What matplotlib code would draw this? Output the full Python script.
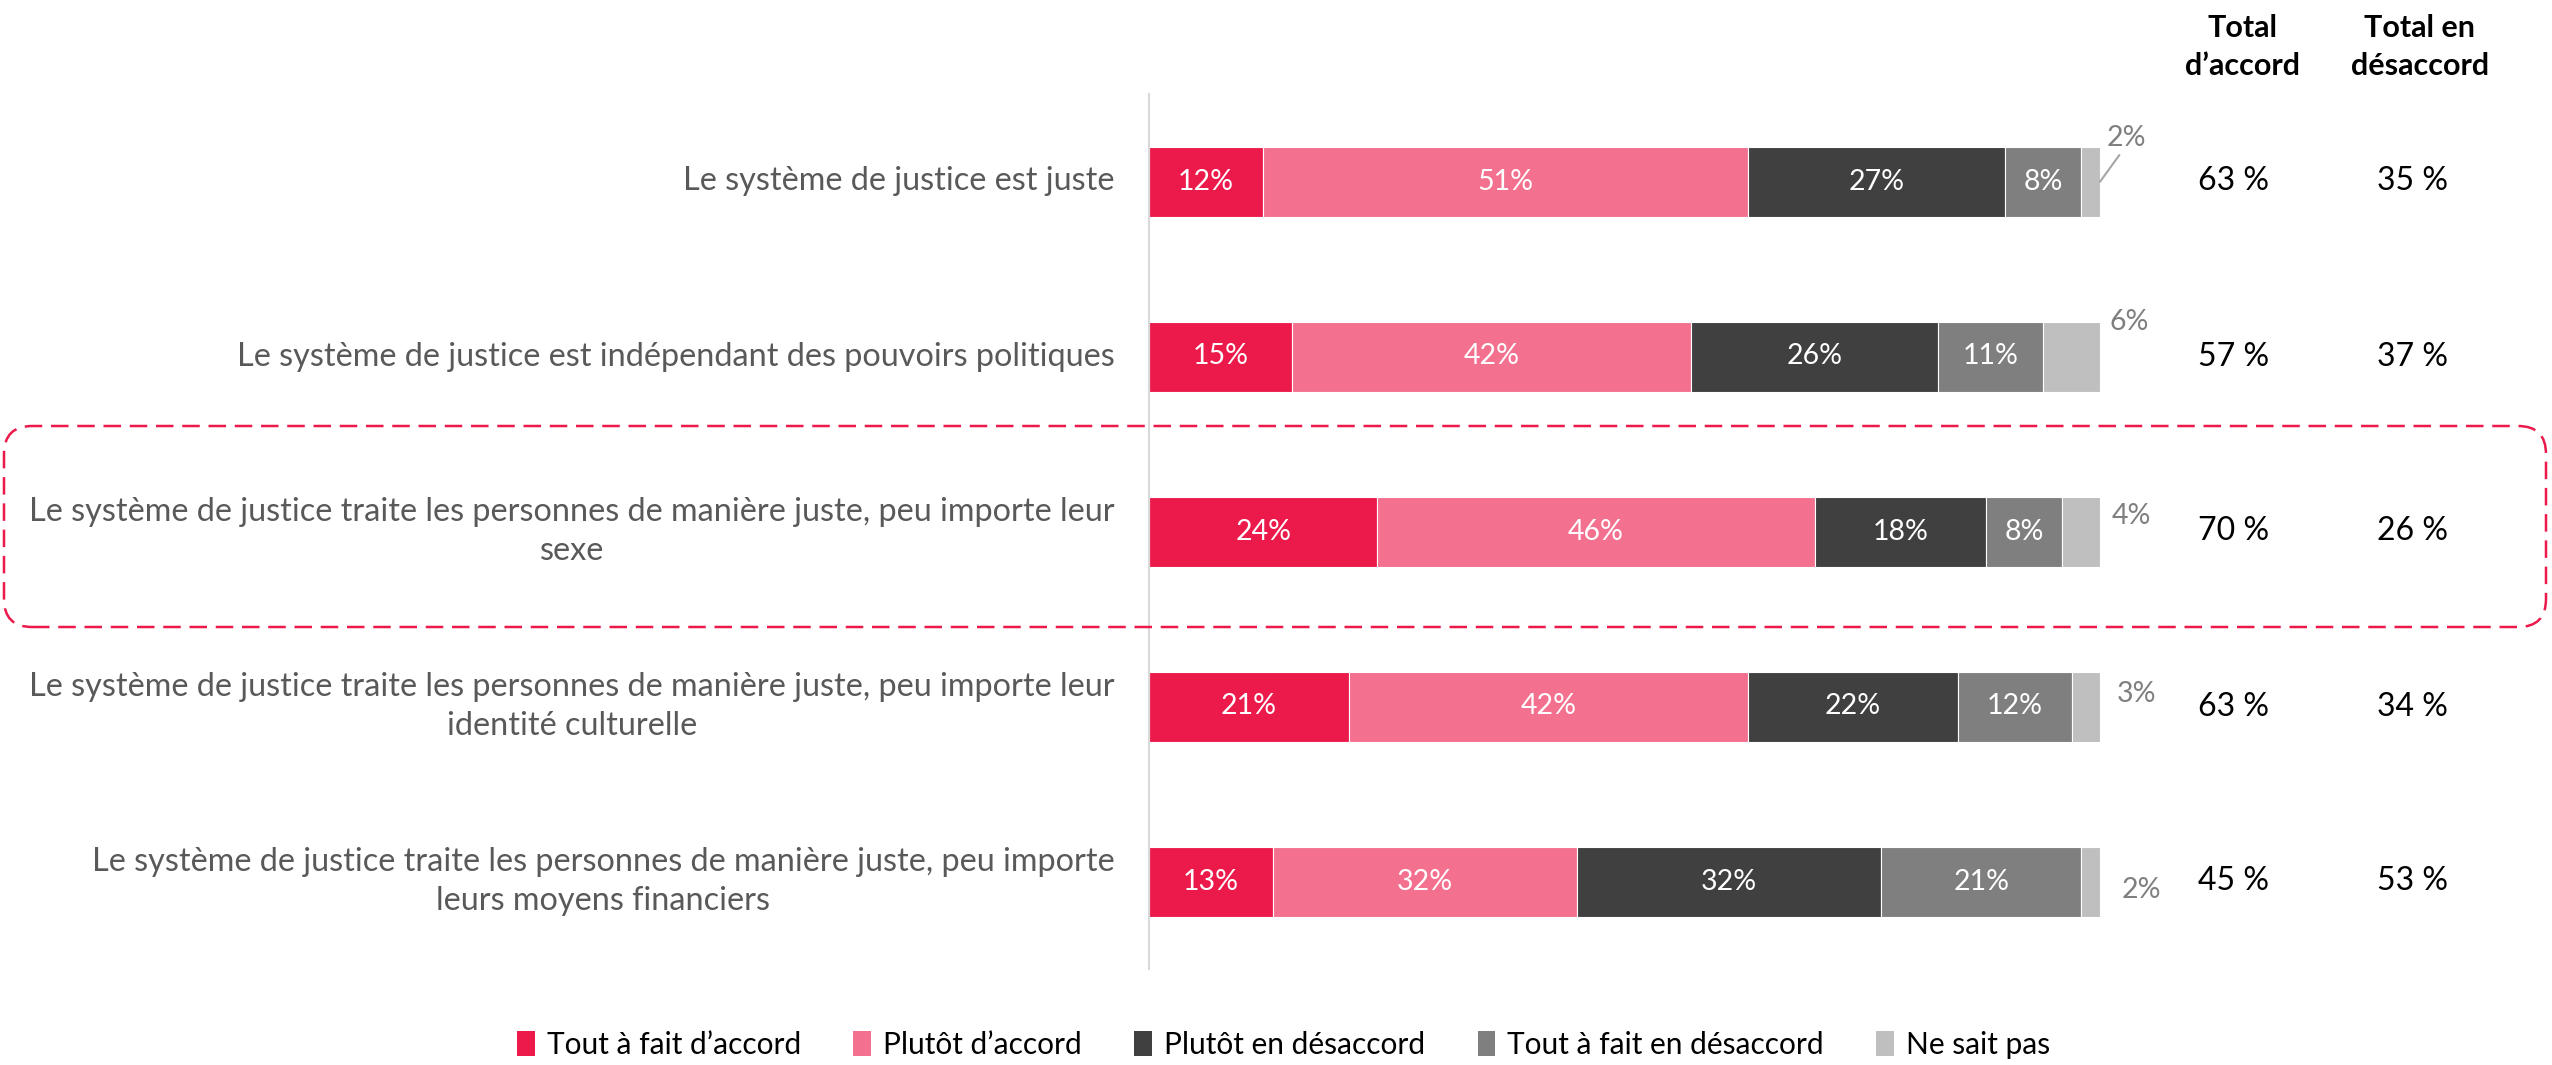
import matplotlib
matplotlib.use("Agg")
import matplotlib.pyplot as plt
from matplotlib.patches import Patch, FancyBboxPatch
from matplotlib.transforms import IdentityTransform

plt.rcParams['font.family'] = ['Lato', 'DejaVu Sans']

categories = [
    "Le système de justice est juste",
    "Le système de justice est indépendant des pouvoirs politiques",
    "Le système de justice traite les personnes de manière juste, peu importe leur\nsexe",
    "Le système de justice traite les personnes de manière juste, peu importe leur\nidentité culturelle",
    "Le système de justice traite les personnes de manière juste, peu importe\nleurs moyens financiers",
]
series = ["Tout à fait d’accord", "Plutôt d’accord", "Plutôt en désaccord",
          "Tout à fait en désaccord", "Ne sait pas"]
tout_accord = [12, 15, 24, 21, 13]
plutot_accord = [51, 42, 46, 42, 32]
plutot_desaccord = [27, 26, 18, 22, 32]
tout_desaccord = [8, 11, 8, 12, 21]
ne_sait_pas = [2, 6, 4, 3, 2]
total_accord = [63, 57, 70, 63, 45]
total_desaccord = [35, 37, 26, 34, 53]

colors = ["#EC1A4B", "#F3718F", "#404040", "#7F7F7F", "#BFBFBF"]

# where the "Ne sait pas" labels sit, outside the bar end
nsp_dx = [2.8, 3.0, 3.3, 3.8, 4.3]
nsp_dy = [-0.25, -0.20, -0.09, -0.07, 0.05]

fig = plt.figure(figsize=(25.52, 10.65), dpi=100)
ax = fig.add_axes([1149 / 2552, 1 - 969 / 1065, 1403 / 2552, 875 / 1065])

rows = range(len(categories))
data = [tout_accord, plutot_accord, plutot_desaccord, tout_desaccord, ne_sait_pas]
left = [0] * len(categories)
for k, vals in enumerate(data):
    ax.barh(rows, vals, left=left, height=0.4, color=colors[k],
            edgecolor="white", linewidth=0.8, label=series[k])
    for i, v in enumerate(vals):
        if k < 4:
            ax.text(left[i] + v / 2, i, f"{v}%", ha="center", va="center",
                    color="white", fontsize=20.5)
    left = [l + v for l, v in zip(left, vals)]

for i, v in enumerate(ne_sait_pas):
    end = left[i]
    ax.text(end + nsp_dx[i], i + nsp_dy[i], f"{v}%", ha="center", va="center",
            color="#7F7F7F", fontsize=20.5)
# leader line for the first row
ax.plot([left[0], left[0] + 2.0], [0.0, -0.15], color="#A6A6A6", lw=1.5)

for i, lab in enumerate(categories):
    ax.text(-3.6, i, lab, ha="right", va="center", multialignment="center",
            color="#595959", fontsize=23.3, linespacing=1.36)

for i in rows:
    ax.text(114, i, f"{total_accord[i]} %", ha="center", va="center",
            color="black", fontsize=23)
    ax.text(132.8, i, f"{total_desaccord[i]} %", ha="center", va="center",
            color="black", fontsize=23)

ax.text(115, -0.77, "Total\nd’accord", ha="center", va="center",
        fontsize=22, fontweight="bold", linespacing=1.45, clip_on=False)
ax.text(133.6, -0.77, "Total en\ndésaccord", ha="center", va="center",
        fontsize=22, fontweight="bold", linespacing=1.45, clip_on=False)

ax.set_xlim(0, 147.5)
ax.set_ylim(4.5, -0.5)
ax.set_xticks([])
ax.set_yticks([])
for s in ["top", "right", "bottom"]:
    ax.spines[s].set_visible(False)
ax.spines["left"].set_color("#D9D9D9")
ax.spines["left"].set_linewidth(1.5)

# highlighted row
box = FancyBboxPatch((4, 1065 - 627), 2542, 201,
                     boxstyle="round,pad=0,rounding_size=28",
                     transform=IdentityTransform(), fill=False,
                     edgecolor="#EC1A4B", linewidth=1.8, linestyle=(0, (7, 3.5)))
fig.patches.append(box)

handles = [Patch(facecolor=c, edgecolor="none") for c in colors]
fig.legend(handles, series, loc="center", bbox_to_anchor=(0.503, 0.019),
           ncol=5, frameon=False, fontsize=21.5, handlelength=0.6,
           handleheight=0.9, handletextpad=0.4, columnspacing=1.75)

fig.savefig("out.png", dpi=100)
